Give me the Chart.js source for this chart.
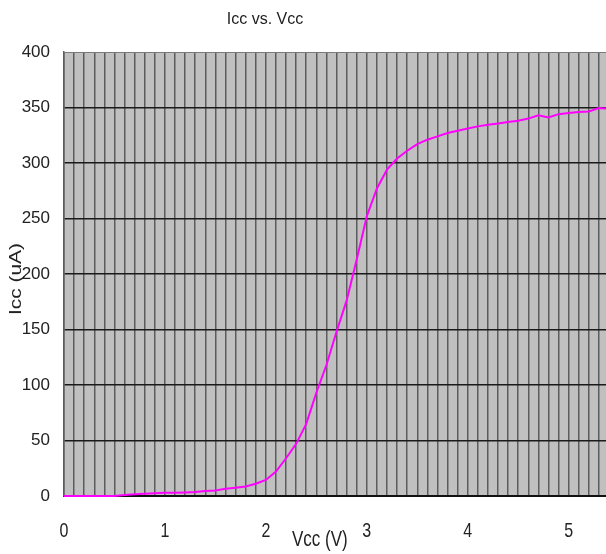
<!DOCTYPE html>
<html>
<head>
<meta charset="utf-8">
<title>Icc vs. Vcc</title>
<script src="https://cdn.jsdelivr.net/npm/chart.js@4/dist/chart.umd.min.js"></script>
<style>
  html, body { margin: 0; padding: 0; background: #ffffff; }
  #wrap { position: relative; width: 606px; height: 554px; }
</style>
</head>
<body>
<div id="wrap"><canvas id="c" width="606" height="554"></canvas></div>
<script>
// Supply voltage sweep (V)
const vcc = [
  0.0, 0.1, 0.2, 0.3, 0.4, 0.5, 0.6, 0.7, 0.8, 0.9,
  1.0, 1.1, 1.2, 1.3, 1.4, 1.5, 1.6, 1.7, 1.8, 1.9,
  2.0, 2.1, 2.2, 2.3, 2.4, 2.5, 2.6, 2.7, 2.8, 2.9,
  3.0, 3.1, 3.2, 3.3, 3.4, 3.5, 3.6, 3.7, 3.8, 3.9,
  4.0, 4.1, 4.2, 4.3, 4.4, 4.5, 4.6, 4.7, 4.8, 4.9,
  5.0, 5.1, 5.2, 5.3, 5.37
];
// Measured supply current (uA)
const icc = [
  0, 0, 0, 0, 0, 0, 0.8, 1.5, 2, 2.5,
  3, 3, 3.2, 3.6, 4.5, 5, 6.5, 7.5, 8.5, 11,
  14.5, 22, 34, 47, 65, 93, 118, 148, 176, 213,
  252, 277, 294, 304, 311, 317, 321, 324, 327, 329,
  331, 333, 334.5, 335.5, 337, 338, 340, 343, 341, 344,
  345, 346, 346.5, 349.5, 349
];
const xTickLabels = ['0', '1', '2', '3', '4', '5'];
const yTicks = [0, 50, 100, 150, 200, 250, 300, 350, 400];

const chartTitle = 'Icc vs. Vcc';
const xTitle = 'Vcc (V)';
const yTitle = 'Icc (uA)';

const FONT = '"Liberation Sans", Arial, sans-serif';
const TEXT = '#222222';

const points = vcc.map((v, i) => ({ x: v, y: icc[i] }));

// Grey plot area behind the grid
const plotBackground = {
  id: 'plotBackground',
  beforeDraw(chart) {
    const { ctx, chartArea: a } = chart;
    ctx.save();
    ctx.fillStyle = '#c0c0c0';
    ctx.fillRect(a.left, a.top, a.right - a.left, a.bottom - a.top);
    ctx.restore();
  }
};

// Title, axis titles and x tick labels (drawn slightly tall, as in the original sheet)
const textLayer = {
  id: 'textLayer',
  afterDraw(chart) {
    const { ctx } = chart;
    const xs = chart.scales.x;
    ctx.save();
    ctx.fillStyle = TEXT;

    ctx.font = '16px ' + FONT;
    ctx.textAlign = 'center';
    ctx.textBaseline = 'alphabetic';
    ctx.fillText(chartTitle, 265, 24);

    ctx.font = '16px ' + FONT;
    xTickLabels.forEach(t => {
      const px = xs.getPixelForValue(Number(t));
      ctx.save();
      ctx.translate(px, 537);
      ctx.scale(1, 1.3);
      ctx.fillText(t, 0, 0);
      ctx.restore();
    });

    ctx.font = '17px ' + FONT;
    ctx.save();
    ctx.textAlign = 'left';
    ctx.translate(292, 546);
    ctx.scale(1, 1.3);
    ctx.fillText(xTitle, 0, 0);
    ctx.restore();

    ctx.save();
    ctx.textAlign = 'center';
    ctx.textBaseline = 'middle';
    ctx.translate(16, 279);
    ctx.rotate(-Math.PI / 2);
    ctx.scale(1.23, 1);
    ctx.fillText(yTitle, 0, 0);
    ctx.restore();

    ctx.restore();
  }
};

new Chart(document.getElementById('c'), {
  type: 'line',
  data: {
    datasets: [{
      data: points,
      borderColor: '#ff00ff',
      borderWidth: 2,
      pointRadius: 0,
      tension: 0,
      fill: false,
      clip: { left: 0, top: 2, right: 0, bottom: 3 }
    }]
  },
  options: {
    responsive: false,
    animation: false,
    devicePixelRatio: 1,
    layout: { padding: { top: 52, left: 0, right: 0, bottom: 0 } },
    plugins: {
      legend: { display: false },
      title: { display: false },
      tooltip: { enabled: false }
    },
    scales: {
      x: {
        type: 'linear',
        min: 0,
        max: 5.37,
        afterFit(scale) { scale.height = 58; },
        ticks: {
          stepSize: 0.1,
          includeBounds: false,
          autoSkip: false,
          display: false,
          maxRotation: 0
        },
        grid: {
          drawTicks: false,
          color: '#5c5c5c',
          lineWidth: 1.5
        },
        border: { display: true, color: '#111111', width: 2 }
      },
      y: {
        type: 'linear',
        min: yTicks[0],
        max: yTicks[yTicks.length - 1],
        afterFit(scale) { scale.width = 64; },
        ticks: {
          stepSize: 50,
          padding: 14,
          color: TEXT,
          font: { family: FONT, size: 17 }
        },
        grid: {
          drawTicks: false,
          color: ctx => (ctx.tick && ctx.tick.value === 400 ? '#7a7a7a' : '#1a1a1a'),
          lineWidth: ctx => (ctx.tick && ctx.tick.value === 400 ? 1 : 1.5)
        },
        border: { display: true, color: '#5c5c5c', width: 1.5 }
      }
    }
  },
  plugins: [plotBackground, textLayer]
});
</script>
</body>
</html>
